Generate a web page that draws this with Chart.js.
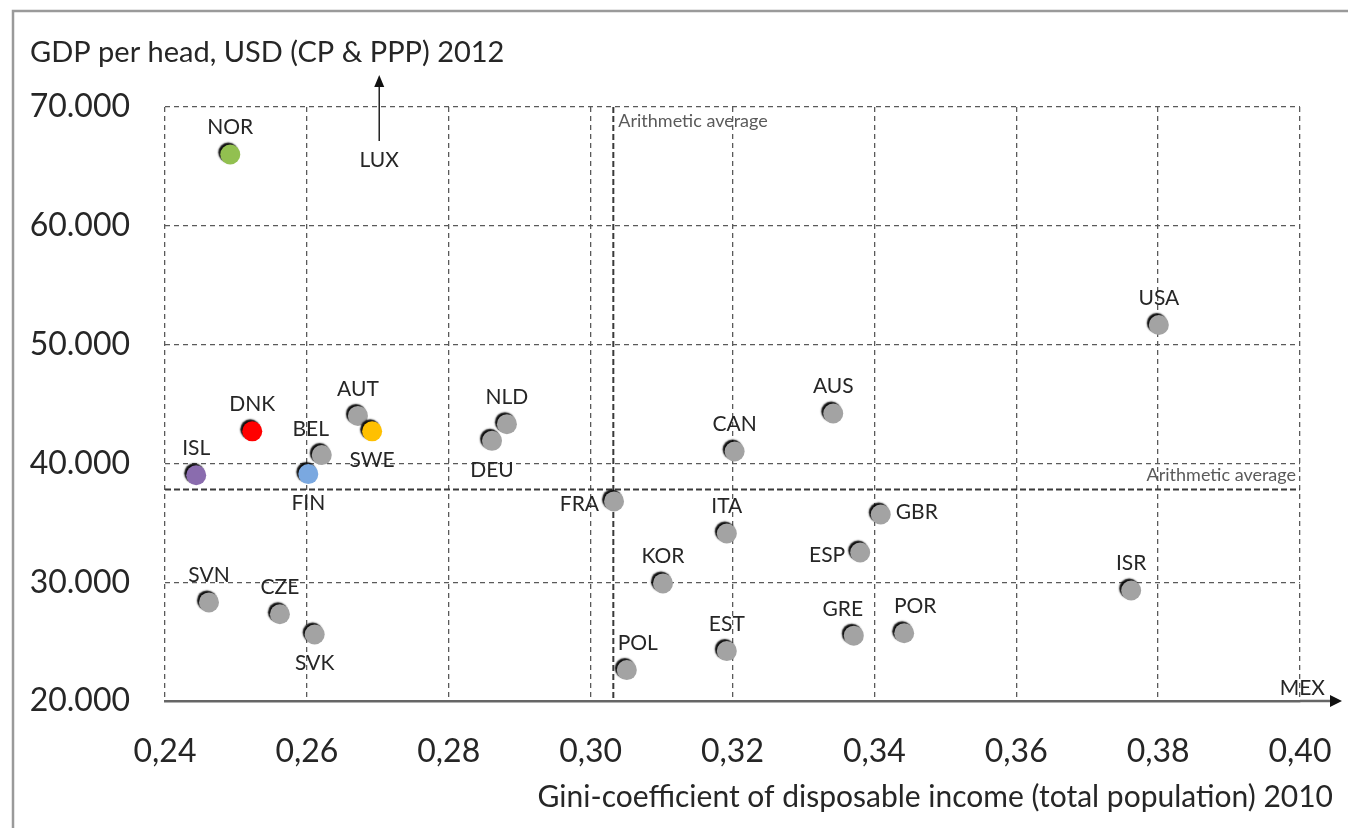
<!DOCTYPE html>
<html>
<head>
<meta charset="utf-8">
<script src="https://cdn.jsdelivr.net/npm/chart.js@4.4.0/dist/chart.umd.min.js"></script>
<style>
  html, body { margin: 0; padding: 0; background: #fff; }
  #wrap { position: relative; width: 1348px; height: 828px; }
</style>
</head>
<body>
<div id="wrap"><canvas id="c" width="1348" height="828"></canvas></div>
<script>
// ---- data ----
const countries = ['NOR','DNK','ISL','BEL','FIN','AUT','SWE','NLD','DEU','FRA','CAN','AUS','USA','ITA','GBR','ESP','ISR','KOR','SVN','CZE','SVK','POL','EST','GRE','POR'];
const gini = [0.2492,0.2523,0.2444,0.2621,0.2602,0.2672,0.2692,0.2882,0.2861,0.3033,0.3203,0.3342,0.3801,0.3192,0.3409,0.3380,0.3762,0.3102,0.2462,0.2562,0.2611,0.3051,0.3192,0.3371,0.3442];
const gdp = [66000,42700,39000,40700,39100,44000,42700,43300,41900,36800,41000,44200,51650,34100,35700,32500,29300,29900,28300,27300,25600,22600,24200,25500,25700];
const avgGini = 0.3032;
const avgGDP = 37800;
const luxGini = 0.2702;   // off the chart upwards
const xTicks = [0.24,0.26,0.28,0.30,0.32,0.34,0.36,0.38,0.40];
const yTicks = [20000,30000,40000,50000,60000,70000];
const yTitle = 'GDP per head, USD (CP & PPP) 2012';
const xTitle = 'Gini-coefficient of disposable income (total population) 2010';
const avgLabel = 'Arithmetic average';

// ---- styling ----
const pointColors = {NOR:'#92c050', DNK:'#ff0000', ISL:'#8a6cae', FIN:'#7aa8e0', SWE:'#ffc000'};
const defaultColor = '#a3a3a3';
const labelPos = {NOR:'n',DNK:'n',ISL:'n',BEL:'nw',FIN:'s',AUT:'n',SWE:'s',NLD:'n',DEU:'s',FRA:'w',CAN:'n',AUS:'n',USA:'n',ITA:'n',GBR:'e',ESP:'w',ISR:'n',KOR:'n',SVN:'n',CZE:'n',SVK:'s',POL:'ne',EST:'n',GRE:'nw',POR:'ne'};
const FONT = 'Lato, "Open Sans", sans-serif';
const TXT = '#262626';
const GRID = '#5a5a5a';

const points = gini.map((g, i) => ({x: g, y: gdp[i]}));

const extras = {
  id: 'extras',
  beforeDraw(chart) {
    const ctx = chart.ctx;
    ctx.save();
    ctx.strokeStyle = '#9a9a9a';
    ctx.lineWidth = 2.5;
    ctx.beginPath();
    ctx.moveTo(13, 828); ctx.lineTo(13, 11); ctx.lineTo(1348, 11);
    ctx.stroke();
    ctx.restore();
  },
  beforeDatasetsDraw(chart) {
    const {ctx, chartArea: a, scales: {x, y}} = chart;
    ctx.save();
    ctx.strokeStyle = '#3a3a3a';
    ctx.lineWidth = 2;
    ctx.setLineDash([6, 3]);
    const ax = x.getPixelForValue(avgGini);
    ctx.beginPath(); ctx.moveTo(ax, a.top); ctx.lineTo(ax, a.bottom); ctx.stroke();
    const ay = y.getPixelForValue(avgGDP);
    ctx.beginPath(); ctx.moveTo(a.left, ay); ctx.lineTo(a.right, ay); ctx.stroke();
    ctx.setLineDash([]);
    ctx.fillStyle = '#5a5a5a';
    ctx.font = '18px ' + FONT;
    ctx.textBaseline = 'middle';
    ctx.textAlign = 'left';
    ctx.fillText(avgLabel, ax + 5, a.top + 14);
    ctx.textAlign = 'right';
    ctx.fillText(avgLabel, a.right - 4, ay - 14);
    // x axis arrow extension
    ctx.strokeStyle = '#666';
    ctx.lineWidth = 2.5;
    ctx.beginPath(); ctx.moveTo(a.right, a.bottom); ctx.lineTo(a.right + 30, a.bottom); ctx.stroke();
    ctx.fillStyle = '#111';
    ctx.beginPath();
    ctx.moveTo(a.right + 42, a.bottom);
    ctx.lineTo(a.right + 30, a.bottom - 6);
    ctx.lineTo(a.right + 30, a.bottom + 6);
    ctx.closePath(); ctx.fill();
    // LUX arrow
    const lx = x.getPixelForValue(luxGini);
    ctx.strokeStyle = '#222';
    ctx.lineWidth = 1.5;
    ctx.beginPath(); ctx.moveTo(lx, a.top + 34); ctx.lineTo(lx, a.top - 24); ctx.stroke();
    ctx.fillStyle = '#111';
    ctx.beginPath();
    ctx.moveTo(lx, a.top - 32); ctx.lineTo(lx - 5, a.top - 20); ctx.lineTo(lx + 5, a.top - 20);
    ctx.closePath(); ctx.fill();
    ctx.fillStyle = TXT;
    ctx.font = '21px ' + FONT;
    ctx.textAlign = 'center';
    ctx.fillText('LUX', lx, a.top + 53);
    ctx.textAlign = 'right';
    ctx.fillText('MEX', a.right + 25, a.bottom - 13);
    // titles
    ctx.font = '29px ' + FONT;
    ctx.textAlign = 'left';
    ctx.fillText(yTitle, 30, 53);
    ctx.font = '30px ' + FONT;
    ctx.textAlign = 'right';
    ctx.fillText(xTitle, 1333, 797);
    ctx.restore();
    // shadow for points
    ctx.save();
    ctx.shadowColor = 'rgba(0,0,0,0.95)';
    ctx.shadowOffsetX = -2;
    ctx.shadowOffsetY = -2;
    ctx.shadowBlur = 1.5;
  },
  afterDatasetsDraw(chart) {
    const ctx = chart.ctx;
    ctx.restore();
    const meta = chart.getDatasetMeta(0);
    ctx.save();
    ctx.fillStyle = TXT;
    ctx.font = '21px ' + FONT;
    ctx.textBaseline = 'middle';
    meta.data.forEach((el, i) => {
      const name = countries[i];
      const p = labelPos[name] || 'n';
      let dx = 0, dy = -27, align = 'center';
      if (p === 's') { dy = 29; }
      else if (p === 'w') { dx = -15; dy = 3; align = 'right'; }
      else if (p === 'e') { dx = 15; dy = -2; align = 'left'; }
      else if (p === 'nw') { dx = -11; dy = -26; }
      else if (p === 'ne') { dx = 11; dy = -27; }
      ctx.textAlign = align;
      ctx.fillText(name, el.x + dx, el.y + dy);
    });
    ctx.restore();
  }
};

new Chart(document.getElementById('c'), {
  type: 'scatter',
  data: {
    datasets: [{
      data: points,
      backgroundColor: countries.map(c => pointColors[c] || defaultColor),
      borderWidth: 0,
      pointRadius: 10,
      pointHoverRadius: 10
    }]
  },
  options: {
    responsive: false,
    animation: false,
    events: [],
    layout: { padding: { top: 107, right: 48, bottom: 0, left: 0 } },
    plugins: { legend: { display: false }, tooltip: { enabled: false } },
    scales: {
      x: {
        type: 'linear', min: 0.24, max: 0.40,
        afterBuildTicks: s => { s.ticks = xTicks.map(v => ({value: v})); },
        afterFit: s => { s.height = 127; s.paddingRight = 0; s.paddingLeft = 0; },
        grid: { color: GRID, lineWidth: 1.3, drawTicks: false },
        border: { display: true, color: '#666', width: 2.5, dash: [5, 4] },
        ticks: {
          padding: 31, color: TXT, font: { family: FONT, size: 32 },
          callback: v => v.toFixed(2).replace('.', ',')
        }
      },
      y: {
        type: 'linear', min: 20000, max: 70000,
        afterBuildTicks: s => { s.ticks = yTicks.map(v => ({value: v})); },
        afterFit: s => { s.width = 165; s.paddingTop = 0; s.paddingBottom = 0; },
        grid: { color: (c) => c.tick && c.tick.value === 20000 ? 'rgba(0,0,0,0)' : GRID, lineWidth: 1.3, drawTicks: false },
        border: { display: false, dash: [5, 4] },
        ticks: {
          padding: 35, color: TXT, font: { family: FONT, size: 32 },
          callback: v => (v / 1000).toFixed(0) + '.000'
        }
      }
    }
  },
  plugins: [extras]
});
</script>
</body>
</html>
